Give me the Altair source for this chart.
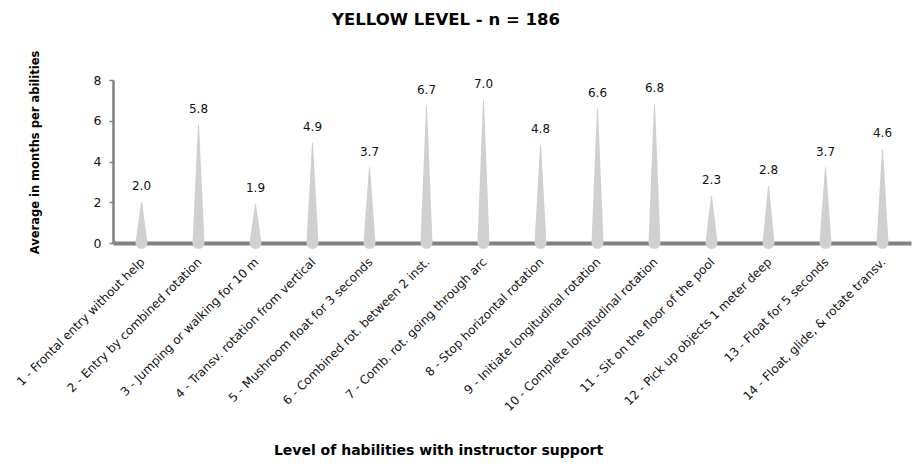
import altair as alt
import pandas as pd

# Abilities (x categories) and average months per ability
abilities = [
    "1 - Frontal entry without help",
    "2 - Entry by combined rotation",
    "3 - Jumping or walking for 10 m",
    "4 - Transv. rotation from vertical",
    "5 - Mushroom float for 3 seconds",
    "6 - Combined rot. between 2 inst.",
    "7 - Comb. rot. going through arc",
    "8 - Stop horizontal rotation",
    "9 - Initiate longitudinal rotation",
    "10 - Complete longitudinal rotation",
    "11 - Sit on the floor of the pool",
    "12 - Pick up objects 1 meter deep",
    "13 - Float for 5 seconds",
    "14 - Float, glide, & rotate transv.",
]
months = [2.0, 5.8, 1.9, 4.9, 3.7, 6.7, 7.0, 4.8, 6.6, 6.8, 2.3, 2.8, 3.7, 4.6]
y_ticks = [0, 2, 4, 6, 8]

FONT = "DejaVu Sans"
SPIKE = "#d0d0d0"
AXIS = "#808080"
BASE_W = 12

# Each spike is a trail from a wide base at 0 to a point at the value
rows = []
for a, v in zip(abilities, months):
    rows.append({"ability": a, "y": 0.0, "w": BASE_W, "k": 0})
    rows.append({"ability": a, "y": v, "w": 0, "k": 1})
spikes_df = pd.DataFrame(rows)
labels_df = pd.DataFrame({"ability": abilities, "months": months})

x_enc = alt.X(
    "ability:N",
    sort=abilities,
    scale=alt.Scale(paddingInner=0, paddingOuter=0),
    axis=alt.Axis(
        title="Level of habilities with instructor support",
        titleFont=FONT,
        titleFontSize=14,
        titleFontWeight="bold",
        titleColor="#000000",
        titleX=325,
        titleY=200,
        titleAlign="center",
        labelAngle=-45,
        labelAlign="right",
        labelBaseline="top",
        labelFont=FONT,
        labelFontSize=12,
        labelColor="#111111",
        labelPadding=13,
        labelOffset=-3,
        labelLimit=400,
        ticks=False,
        domainColor=AXIS,
        domainWidth=4,
    ),
)

y_scale = alt.Scale(domain=[0, 8], nice=False)
y_axis = alt.Axis(
    title="Average in months per abilities",
    titleFont=FONT,
    titleFontSize=11.5,
    titleFontWeight="bold",
    titleColor="#000000",
    titleX=-73,
    titleY=72,
    titleAlign="center",
    values=y_ticks,
    labelFont=FONT,
    labelFontSize=12.5,
    labelColor="#111111",
    labelPadding=8,
    tickSize=4,
    tickColor=AXIS,
    tickWidth=1.5,
    domainColor=AXIS,
    domainWidth=2.5,
    grid=False,
)

spikes = alt.Chart(spikes_df).mark_trail(color=SPIKE).encode(
    x=x_enc,
    y=alt.Y("y:Q", scale=y_scale, axis=y_axis),
    size=alt.Size("w:Q", scale=None, legend=None),
    detail="ability:N",
    order=alt.Order("k:Q"),
)

values = alt.Chart(labels_df).mark_text(
    font=FONT, fontSize=12, color="#111111", baseline="alphabetic", dy=-12
).encode(
    x=alt.X("ability:N", sort=abilities),
    y=alt.Y("months:Q", scale=y_scale),
    text=alt.Text("months:Q", format=".1f"),
)

chart = (
    alt.layer(spikes, values)
    .properties(
        width=798,
        height=163,
        background="white",
        title=alt.TitleParams(
            "YELLOW LEVEL - n = 186",
            font=FONT,
            fontSize=16.5,
            fontWeight="bold",
            color="#000000",
            anchor="middle",
            dx=-66,
            offset=22,
        ),
        autosize=alt.AutoSizeParams(type="none"),
        padding={"left": 113, "top": 80, "right": 1, "bottom": 225},
    )
    .configure_view(stroke=None)
)

chart.save("out.html", embed_options={"renderer": "svg", "actions": False})
